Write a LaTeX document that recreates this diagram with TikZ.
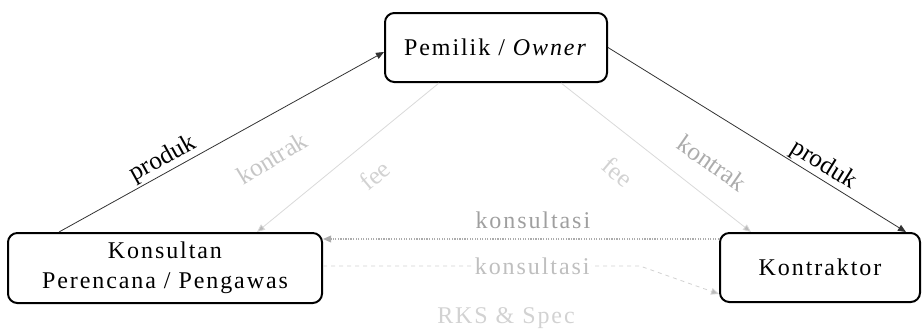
\documentclass[tikz,border=0pt]{standalone}
\usepackage{fontspec}
\setmainfont{Liberation Serif}[LetterSpace=8]
\newfontfamily\rotfont{Liberation Serif}
\usetikzlibrary{arrows.meta,calc}
\tikzset{
  box/.style={draw, line width=1.5pt, rounded corners=7pt, inner sep=0pt, align=center,
              font=\fontsize{18}{22.5}\selectfont},
  lbl/.style={font=\fontsize{18}{20}\selectfont, inner sep=1pt},
  rlbl/.style={font=\rotfont\fontsize{19}{20}\selectfont, inner sep=1pt},
  tipend/.style={-{Triangle[length=6pt,width=5pt]}},
  conn/.style={draw=black!80, line width=0.6pt, tipend},
  faint/.style={draw=gray!30, line width=0.6pt, -{Triangle[length=6pt,width=5pt,fill=gray!55]}},
  dots/.style={draw=gray!65, line width=0.9pt, densely dotted, tipend},
  faintdash/.style={draw=gray!35, line width=0.6pt, dashed, -{Triangle[length=6pt,width=5pt,fill=gray!55]}}
}
\begin{document}
\begin{tikzpicture}[x=0.75pt,y=-0.75pt]
\useasboundingbox (0,0) rectangle (922,332);

% boxes
\node[box, minimum width=166.5pt, minimum height=51.75pt] (owner) at (496,47.5) {Pemilik / \textit{Owner}};
\node[box, minimum width=235.5pt, minimum height=52.5pt] (kons) at (165,268) {Konsultan\\Perencana / Pengawas};
\node[box, minimum width=150pt, minimum height=51.75pt] (kontr) at (820,267.5) {Kontraktor};

% produk lines
\draw[conn] ($(kons.north west)+(52,0)$) -- node[rlbl, sloped, above, pos=0.34] (lp1) {produk} ($(owner.west)+(0,4.5)$);
\draw[conn] (owner.east) -- node[rlbl, sloped, above, pos=0.70] (lp2) {produk} ($(kontr.north east)+(-15,0)$);

% faint kontrak / fee lines
\draw[faint] ($(owner.south west)+(55,0)$) -- ($(kons.north west)+(250,0)$);
\draw[faint] ($(owner.south east)+(-47,0)$) -- ($(kontr.north west)+(32,0)$);
\node[rlbl, text=gray!45, rotate=31] (kl) at (272,158) {kontrak};
\node[rlbl, text=gray!35, rotate=40] (fl) at (375,175) {fee};
\node[rlbl, text=gray!65, rotate=-35] (kr) at (712,163) {kontrak};
\node[rlbl, text=gray!35, rotate=-40] (fr) at (618,172) {fee};

% konsultasi (dotted)
\draw[dots] ($(kontr.north west)+(0,7)$) -- node[lbl, pos=0.47, above=6pt, text=gray!75] (ks1) {konsultasi} ($(kons.north east)+(0,7)$);

% konsultasi (faint)
\coordinate (bend) at (640,266);
\draw[faintdash] ($(kons.east)+(0,-2)$) -- node[lbl, pos=0.66, fill=white, text=gray!50] (ks2) {konsultasi} (bend) -- ($(kontr.south west)+(0,-9)$);

\node[lbl, text=gray!35] (rks) at (506,318) {RKS \& Spec};
\end{tikzpicture}
\end{document}
